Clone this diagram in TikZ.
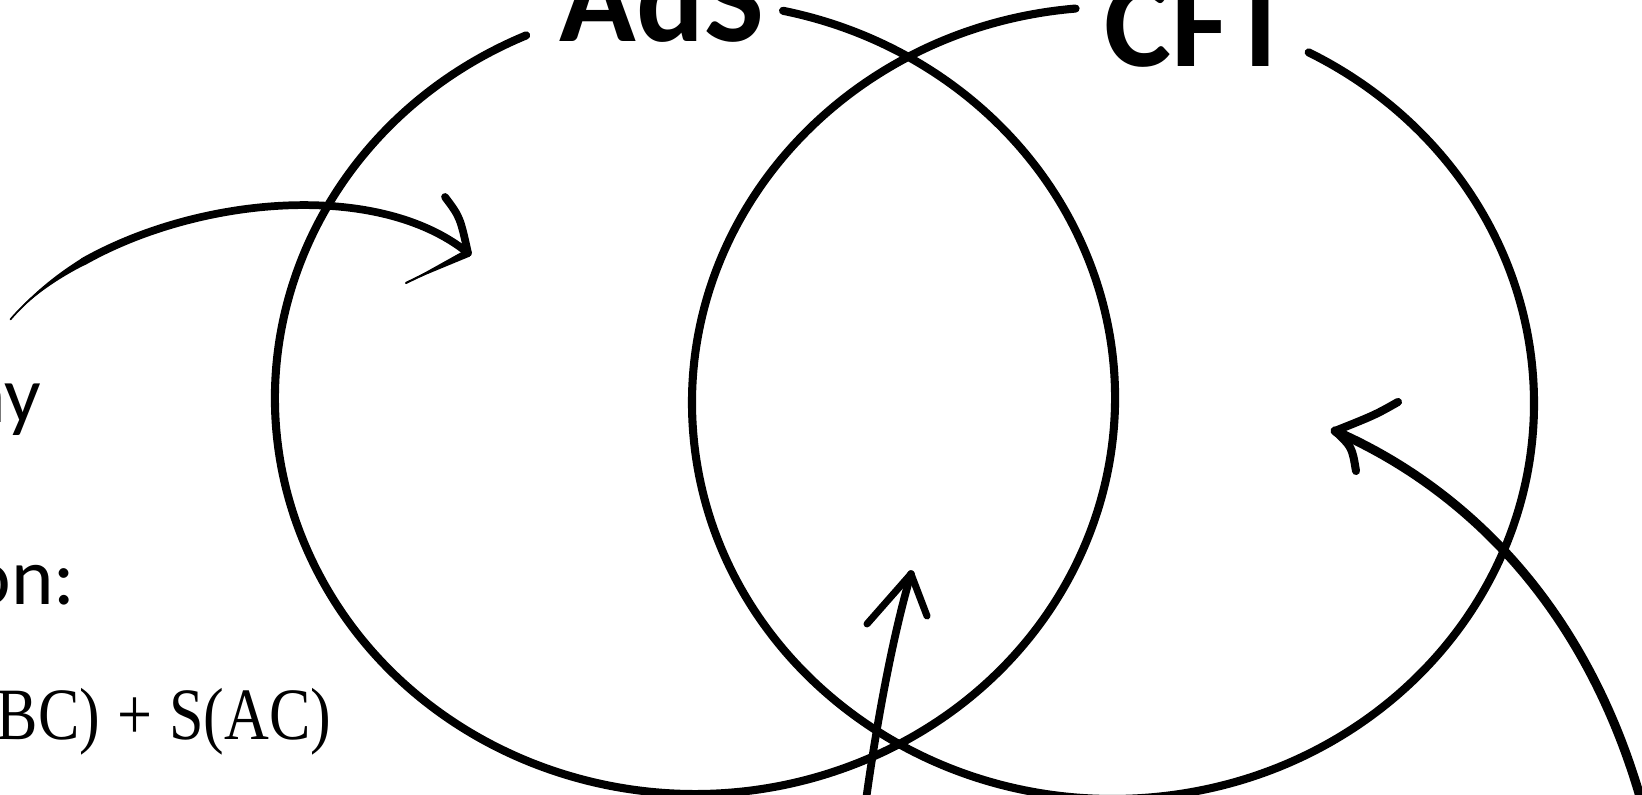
\documentclass[tikz,border=0pt]{standalone}
\usepackage{fontspec}
\usepackage{graphicx}
\setmainfont{Carlito}
\newfontfamily\eqfont{Liberation Serif}
\usetikzlibrary{calc}
\tikzset{
  ring/.style={line width=2.3pt, line cap=round},
  stroke/.style={line width=2.2pt, line cap=round, line join=round},
  barb/.style={line width=2.0pt, line cap=round},
  title/.style={inner sep=0pt, font=\fontsize{36}{40}\selectfont\bfseries},
  side/.style={inner sep=0pt, font=\fontsize{23}{26}\selectfont},
}
\begin{document}
\begin{tikzpicture}
\useasboundingbox (0,0) rectangle (16.42,7.95);
\clip (0,0) rectangle (16.42,7.95);
\fill[white] (0,0) rectangle (16.42,7.95);

% ellipse centres
\coordinate (cL) at (6.95,3.97);
\coordinate (cR) at (11.13,3.92);

% the two rings, open at the titles
\draw[ring] ($(cL)+(113.7:4.20 and 3.96)$) arc[start angle=113.7, end angle=437.9, x radius=4.20, y radius=3.96];
\draw[ring] ($(cR)+(95.1:4.21 and 3.96)$) arc[start angle=95.1, end angle=422.3, x radius=4.21, y radius=3.96];

% titles
\node[title, anchor=base west] (ads) at (5.59,7.53) {AdS};
\node[title, anchor=base west] (cft) at (11.04,7.28) {CFT};

% left texts (cut by the edge)
\node[side, anchor=base east] (t1) at (0.42,3.72) {ny};
\node[side, anchor=base east] (t2) at (0.76,1.90) {on:};
\node[inner sep=0pt, anchor=base east, font=\eqfont\fontsize{21}{24}\selectfont] (t3) at (3.32,0.55) {\scalebox{0.84}[1]{BC)\;+\;S(AC)}};

% arrow 1 (top left): tapered start, then full stroke
\coordinate (a1s) at (0.105,4.756);
\coordinate (a1m) at (0.835,5.3345);
\coordinate (a1t) at (4.68,5.42);
\coordinate (a1u) at (4.45,5.98);
\coordinate (a1l) at (4.06,5.12);
\fill (a1s) .. controls (0.2873,4.9812) and (0.5314,5.1884) .. ($(a1m)+(-0.018,0.032)$)
      -- ($(a1m)+(0.018,-0.032)$) .. controls (0.5578,5.1532) and (0.2995,4.9708) .. (a1s) -- cycle;
\draw[line width=0.5pt, line cap=round] (a1s) .. controls (0.2934,4.976) and (0.5446,5.1708) .. (a1m);
\draw[stroke] (a1m) .. controls (1.9965,5.9893) and (3.784,6.1456) .. (a1t);
\draw[barb, line width=2.2pt] (a1u) .. controls (4.60,5.78) .. (a1t);
\fill ($(a1t)+(0.018,-0.036)$) -- (a1l) -- ($(a1t)+(-0.018,0.036)$) -- cycle;
\draw[line width=0.6pt, line cap=round] (a1t) -- (a1l);

% arrow 2 (bottom middle)
\coordinate (a2s) at (8.66,-0.05);
\coordinate (a2t) at (9.11,2.21);
\coordinate (a2l) at (8.67,1.71);
\coordinate (a2r) at (9.27,1.79);
\draw[stroke] (a2s) .. controls (8.77,0.74) and (8.93,1.60) .. (a2t);
\draw[barb] (a2t) -- (a2l);
\draw[barb] (a2t) -- (a2r);

% arrow 3 (right)
\coordinate (a3s) at (16.41,-0.05);
\coordinate (a3t) at (13.35,3.64);
\coordinate (a3u) at (13.98,3.93);
\coordinate (a3l) at (13.56,3.24);
\draw[stroke, line width=2.6pt] (a3s) .. controls (15.79,2.10) and (14.45,3.16) .. (a3t);
\draw[barb, line width=2.3pt] (a3t) .. controls (13.75,3.80) .. (a3u);
\draw[barb, line width=2.3pt] (a3t) .. controls (13.52,3.48) .. (a3l);
\end{tikzpicture}
\end{document}
